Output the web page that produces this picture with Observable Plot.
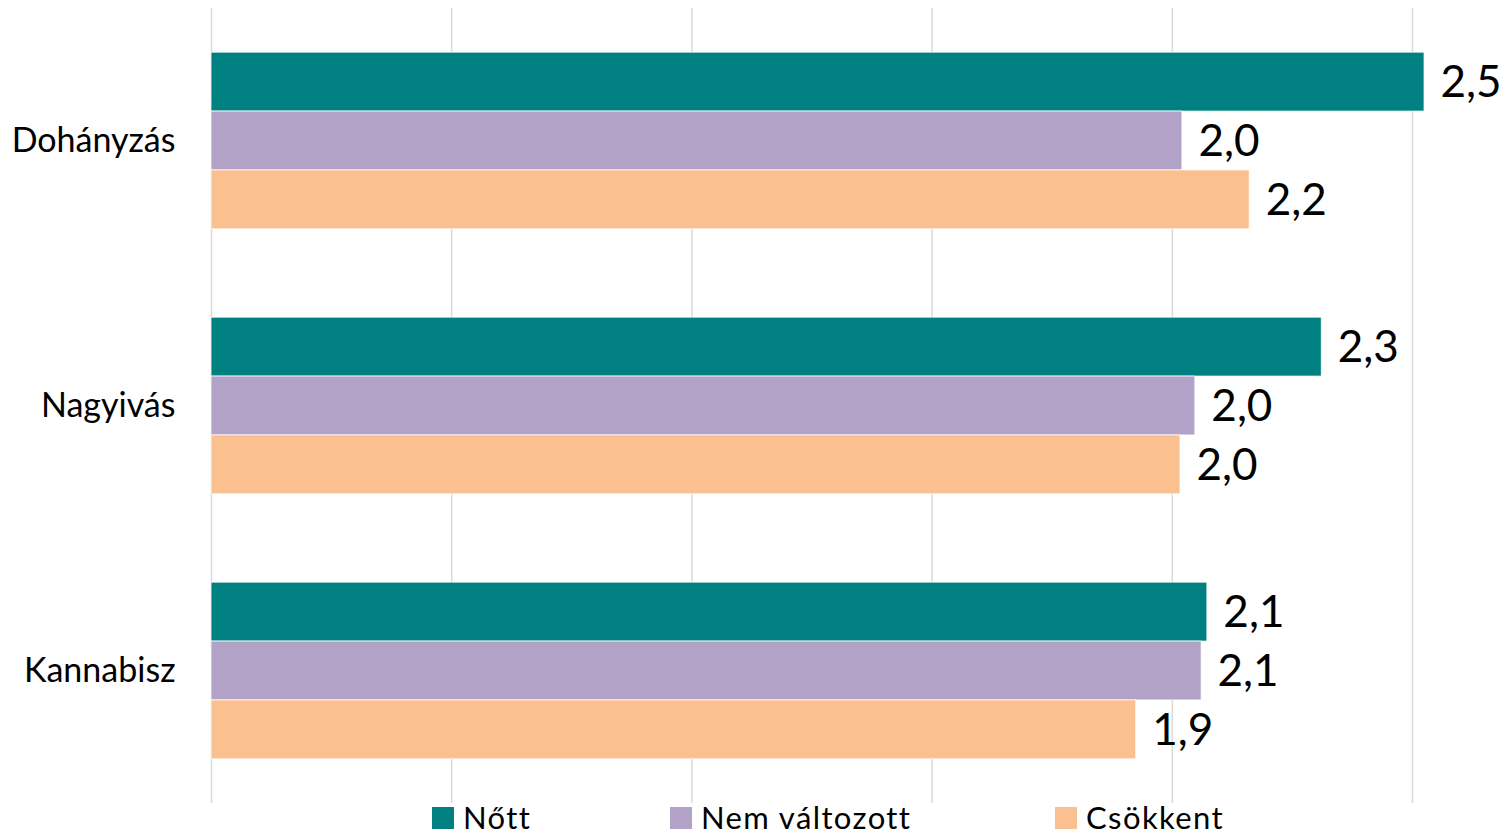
<!DOCTYPE html>
<html>
<head>
<meta charset="utf-8">
<script src="https://cdn.jsdelivr.net/npm/d3@7"></script>
<script src="https://cdn.jsdelivr.net/npm/@observablehq/plot@0.6"></script>
<style>
  html, body { margin: 0; padding: 0; background: #fff; }
  #chart { width: 1506px; height: 836px; position: relative; overflow: hidden; }
  #legend { position: relative; height: 30px; font-family: Lato, sans-serif; font-size: 31px; color: #000; }
  .item { position: absolute; top: 0; height: 30px; white-space: nowrap; }
  .sw { position: absolute; left: 0; top: 1px; width: 22px; height: 22px; }
  .lbl { position: absolute; left: 31px; top: -2px; line-height: 26px; letter-spacing: 1.4px; }
</style>
</head>
<body>
<div id="chart"></div>
<script>
const categories = ["Dohányzás", "Nagyivás", "Kannabisz"];
const series = ["Nőtt", "Nem változott", "Csökkent"];
const colors = ["#008080", "#B3A2C7", "#FAC090"];
const nott = [2.525, 2.311, 2.073];
const nemValtozott = [2.021, 2.048, 2.061];
const csokkent = [2.161, 2.017, 1.925];
const gridTicks = [0, 0.5, 1, 1.5, 2, 2.5];
const legendX = [432, 670, 1055];

const valuesBySeries = [nott, nemValtozott, csokkent];
const rows = [];
categories.forEach((c, i) => {
  series.forEach((s, j) => {
    rows.push({category: c, series: s, value: valuesBySeries[j][i]});
  });
});
const fmt = v => d3.format(".1f")(v).replace(".", ",");

const plot = Plot.plot({
  width: 1506,
  height: 806,
  marginLeft: 211,
  marginRight: 94,
  marginTop: 8,
  marginBottom: 3,
  style: {fontFamily: "Lato, sans-serif", fontSize: "34px", color: "#000", background: "white"},
  x: {domain: [0, 2.5], axis: null},
  y: {domain: series, axis: null, paddingInner: 0, paddingOuter: 0.75, round: false},
  fy: {domain: categories, padding: 0, round: false, label: null, axis: "left", tickSize: 0, tickPadding: 36},
  color: {domain: series, range: colors},
  facet: {data: rows, y: "category"},
  marks: [
    Plot.ruleX(gridTicks, {x: d => d, stroke: "#d9d9d9", strokeWidth: 1.5}),
    Plot.barX(rows, {x: "value", y: "series", fill: "series", stroke: "white", strokeWidth: 0.75}),
    Plot.text(rows, {x: "value", y: "series", text: d => fmt(d.value), textAnchor: "start", dx: 16, dy: 1, fontSize: 44, fill: "#000"})
  ]
});
const chart = document.getElementById("chart");
chart.appendChild(plot);

const legend = document.createElement("div");
legend.id = "legend";
series.forEach((s, j) => {
  const item = document.createElement("div");
  item.className = "item";
  item.style.left = legendX[j] + "px";
  const sw = document.createElement("div");
  sw.className = "sw";
  sw.style.background = colors[j];
  const lbl = document.createElement("span");
  lbl.className = "lbl";
  lbl.textContent = s;
  item.appendChild(sw);
  item.appendChild(lbl);
  legend.appendChild(item);
});
chart.appendChild(legend);
</script>
</body>
</html>
